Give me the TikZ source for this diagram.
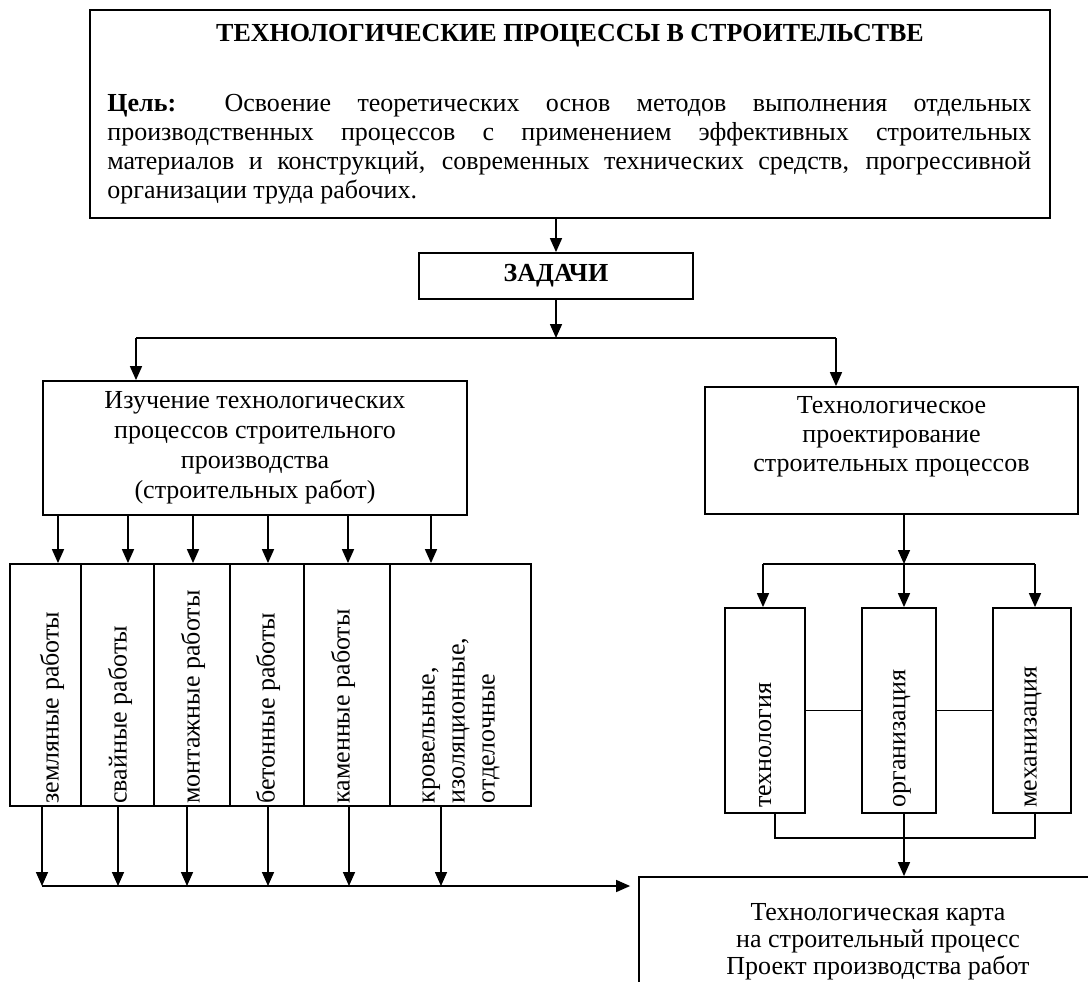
\documentclass[tikz,border=0pt]{standalone}
\usepackage{fontspec}
\setmainfont{Liberation Serif}
\usetikzlibrary{arrows.meta}

\begin{document}
\begin{tikzpicture}[x=0.5pt, y=-0.5pt,
        every node/.style={font=\fontsize{13}{14.5}\selectfont},
        box/.style={draw, line width=0.9pt, inner sep=0pt, align=center},
        vlabel/.style={rotate=90, anchor=west, inner sep=0pt, align=left},
        arr/.style={line width=0.8pt, -{Triangle[width=6pt, length=7pt]}},
        link/.style={line width=0.8pt}]
        \useasboundingbox (0,0) rectangle (1088,981);
        \clip (0,0) rectangle (1088,981);
        % Main box: title and goal
        \node[box, minimum width=480pt, minimum height=104pt] (top) at (570,114) {};
        \node[font=\fontsize{13}{14.5}\selectfont\bfseries] (title) at (570,36) {ТЕХНОЛОГИЧЕСКИЕ ПРОЦЕССЫ В СТРОИТЕЛЬСТВЕ};
        \node[anchor=north west, inner sep=0pt, text width=462pt, align=justify] (goal) at (107,94)
            {\textbf{Цель:} Освоение теоретических основ методов выполнения отдельных\linebreak
             производственных процессов с применением эффективных строительных\linebreak
             материалов и конструкций, современных технических средств, прогрессивной\linebreak
             организации труда рабочих.};
        % Tasks
        \node[box, minimum width=137pt, minimum height=23pt, font=\fontsize{13}{14.5}\selectfont\bfseries] (tasks) at (556,276) {ЗАДАЧИ};
        \draw[arr] (tasks.north |- top.south) -- (tasks.north);
        \coordinate (split) at (556,338);
        \draw[arr] (tasks.south) -- (split);
        % Two directions
        \node[box, minimum width=212pt, minimum height=67pt, font=\fontsize{13}{15}\selectfont] (study) at (255,448)
            {Изучение технологических\\процессов строительного\\производства\\(строительных работ)};
        \node[box, minimum width=186.5pt, minimum height=63.5pt] (design) at (891.5,450.5) {};
        \node[align=center] (designtext) at (891.5,437) {Технологическое\\проектирование\\строительных процессов};
        \coordinate (sl) at (136,338);
        \coordinate (sr) at (836,338);
        \draw[link] (sl) -- (sr);
        \draw[arr] (sl) -- (sl |- study.north);
        \draw[arr] (sr) -- (sr |- design.north);
        % Kinds of work
        \node[box, minimum width=35.5pt, minimum height=121pt] (w1) at (45.5,685) {};
        \node[box, minimum width=36.5pt, minimum height=121pt] (w2) at (117.5,685) {};
        \node[box, minimum width=38pt, minimum height=121pt] (w3) at (192,685) {};
        \node[box, minimum width=37pt, minimum height=121pt] (w4) at (267,685) {};
        \node[box, minimum width=43pt, minimum height=121pt] (w5) at (347,685) {};
        \node[box, minimum width=70.5pt, minimum height=121pt] (w6) at (460.5,685) {};
        \node[vlabel] (w1text) at (52,804) {земляные работы};
        \node[vlabel] (w2text) at (120,804) {свайные работы};
        \node[vlabel] (w3text) at (193,804) {монтажные работы};
        \node[vlabel] (w4text) at (268,804) {бетонные работы};
        \node[vlabel] (w5text) at (343,804) {каменные работы};
        \node[vlabel, font=\fontsize{13}{15}\selectfont] (w6text) at (461,804) {кровельные,\\изоляционные,\\отделочные};
        \foreach \x/\w in {58/w1, 128/w2, 193/w3, 268/w4, 348/w5, 431/w6} {
            \coordinate (c) at (\x,0);
            \draw[arr] (c |- study.south) -- (c |- \w.north);
        }
        % Collector line to the card
        \node[box, minimum width=240.5pt, minimum height=83pt] (card) at (879.5,960) {};
        \node[align=center, font=\fontsize{13}{13.5}\selectfont] (cardtext) at (878,942)
            {Технологическая карта\\на строительный процесс\\Проект производства работ};
        \coordinate (collect) at (42,886);
        \foreach \x/\w in {42/w1, 118/w2, 187/w3, 268/w4, 349/w5, 441/w6} {
            \coordinate (c) at (\x,0);
            \draw[arr] (c |- \w.south) -- (c |- collect);
        }
        \draw[arr] (collect) -- ([xshift=-4pt]card.west |- collect);
        % Design components
        \node[box, minimum width=40pt, minimum height=102.5pt] (tech) at (765,710.5) {};
        \node[box, minimum width=37pt, minimum height=102.5pt] (org) at (899,710.5) {};
        \node[box, minimum width=39pt, minimum height=102.5pt] (mech) at (1032,710.5) {};
        \node[vlabel] (techtext) at (765,808) {технология};
        \node[vlabel] (orgtext) at (902,808) {организация};
        \node[vlabel] (mechtext) at (1033,808) {механизация};
        \draw[link] (tech) -- (org);
        \draw[link] (org) -- (mech);
        \coordinate (dsplit) at (904,564);
        \coordinate (dl) at (763,564);
        \coordinate (dr) at (1035,564);
        \draw[arr] (dsplit |- design.south) -- (dsplit);
        \draw[link] (dl) -- (dr);
        \draw[arr] (dl) -- (dl |- tech.north);
        \draw[arr] (dsplit) -- (dsplit |- org.north);
        \draw[arr] (dr) -- (dr |- mech.north);
        % Join below the components
        \coordinate (jl) at (775,838);
        \coordinate (jm) at (904,838);
        \coordinate (jr) at (1035,838);
        \draw[link] (jl |- tech.south) -- (jl) -- (jr) -- (jr |- mech.south);
        \draw[arr] (jm |- org.south) -- (jm |- card.north);
    \end{tikzpicture}
\end{document}
